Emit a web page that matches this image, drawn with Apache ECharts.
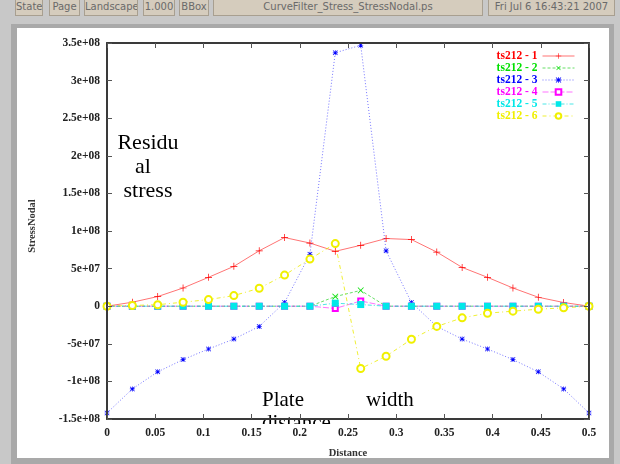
<!DOCTYPE html>
<html>
<head>
<meta charset="utf-8">
<script src="https://cdn.jsdelivr.net/npm/echarts@6/dist/echarts.min.js"></script>
<style>
  body { margin: 0; background: #c8c8c8; }
  .btn {
    position: absolute; top: 0; height: 16px;
    background: #d5ccbd; border: 1px solid #a89f90; border-top: none;
    font: 10px "DejaVu Sans", sans-serif; color: #6a6a6a;
    text-align: center; line-height: 14px; box-sizing: border-box;
    overflow: hidden; white-space: nowrap;
  }
  #frame { position: absolute; left: 11px; top: 24px; width: 603px; height: 440px; background: #a9a9a9; }
  #page { position: absolute; left: 17px; top: 28px; width: 592px; height: 430px; background: #fff; }
  #main { position: absolute; left: 0; top: 0; width: 620px; height: 464px; }
</style>
</head>
<body>
<div class="btn" style="left:15px;width:28px">State</div>
<div class="btn" style="left:49px;width:31px">Page</div>
<div class="btn" style="left:84px;width:54px">Landscape</div>
<div class="btn" style="left:143px;width:32px">1.000</div>
<div class="btn" style="left:179px;width:30px">BBox</div>
<div class="btn" style="left:213px;width:270px">CurveFilter_Stress_StressNodal.ps</div>
<div class="btn" style="left:488px;width:127px">Fri Jul  6 16:43:21 2007</div>
<div id="frame"></div>
<div id="page"></div>
<div id="main"></div>
<script>
// nodal positions along the plate
const distance = [0, 0.0263, 0.0526, 0.0789, 0.1053, 0.1316, 0.1579, 0.1842, 0.2105, 0.2368,
  0.2632, 0.2895, 0.3158, 0.3421, 0.3684, 0.3947, 0.4211, 0.4474, 0.4737, 0.5]

const ts1 = [0, 5.3e6, 1.28e7, 2.42e7, 3.84e7, 5.3e7, 7.37e7, 9.13e7, 8.4e7, 7.3e7,
  8.1e7, 9.0e7, 8.86e7, 7.2e7, 5.16e7, 3.84e7, 2.42e7, 1.19e7, 4.9e6, 0]
const ts2 = [0, 0, 0, 0, 0, 0, 0, 0, 0, 1.28e7,
  2.1e7, 0, 0, 0, 0, 0, 0, 0, 0, 0]
const ts3 = [-1.42e8, -1.10e8, -8.73e7, -7.1e7, -5.69e7, -4.37e7, -2.69e7, 4.9e6, 6.9e7, 3.37e8,
  3.47e8, 7.37e7, 4.9e6, -2.69e7, -4.37e7, -5.69e7, -7.1e7, -8.73e7, -1.10e8, -1.42e8]
const ts4 = [0, 0, 0, 0, 0, 0, 0, 0, 0, -3e6,
  7e6, 0, 0, 0, 0, 0, 0, 0, 0, 0]
const ts5 = [0, 0, 0, 0, 0, 0, 0, 0, 0, 4e6,
  2.2e6, 0, 0, 0, 0, 0, 0, 0, 0, 0]
const ts6 = [0, 1e6, 2e6, 5.3e6, 8.8e6, 1.41e7, 2.38e7, 4.14e7, 6.26e7, 8.33e7,
  -8.29e7, -6.65e7, -4.4e7, -2.69e7, -1.55e7, -9.3e6, -6.6e6, -4e6, -2.2e6, 0]

const seriesNames = ['ts212 - 1', 'ts212 - 2', 'ts212 - 3', 'ts212 - 4', 'ts212 - 5', 'ts212 - 6']
const xTickLabels = ['0', '0.05', '0.1', '0.15', '0.2', '0.25', '0.3', '0.35', '0.4', '0.45', '0.5']
const yTickLabels = ['-1.5e+08', '-1e+08', '-5e+07', '0', '5e+07', '1e+08', '1.5e+08', '2e+08', '2.5e+08', '3e+08', '3.5e+08']

const serif = '"Liberation Serif", "DejaVu Serif", serif'
const colors = ['#ff0000', '#00e000', '#0000ff', '#ff00ff', '#00e8e8', '#f0f000']
const lineColors = ['rgba(255,0,0,0.55)', 'rgba(0,200,0,0.6)', 'rgba(0,0,255,0.55)',
  'rgba(255,0,255,0.55)', 'rgba(0,220,220,0.7)', 'rgba(235,235,0,0.8)']

const plusPath = 'path://M0,4.5H10V5.5H0ZM4.5,0H5.5V10H4.5Z'
const starPath = 'path://M0,4.3H10V5.7H0ZM4.3,0H5.7V10H4.3ZM1,0L10,9L9,10L0,1ZM9,0L10,1L1,10L0,9Z'

const values = [ts1, ts2, ts3, ts4, ts5, ts6]
const marks = [
  { symbol: plusPath, symbolSize: 7, border: 0, type: 'solid' },
  { symbol: plusPath, symbolSize: 8, border: 0, rotate: 45, type: [3, 2] },
  { symbol: starPath, symbolSize: 5, border: 0, type: [1, 2] },
  { symbol: 'emptyRect', symbolSize: 5, border: 1, type: [6, 2] },
  { symbol: 'rect', symbolSize: 7, border: 0, type: [4, 2, 1, 2] },
  { symbol: 'emptyCircle', symbolSize: 7, border: 1, type: [4, 3, 1, 3] },
]

const chart = echarts.init(document.getElementById('main'))

const tickStyle = { inside: true, length: 5, lineStyle: { color: '#555', width: 1 } }
const frameLine = { show: true, onZero: false, lineStyle: { color: '#3a3a3a', width: 2 } }
const labelFont = { fontFamily: serif, fontWeight: 'bold', fontSize: 11.5, color: '#222' }

chart.setOption({
  backgroundColor: 'transparent',
  animation: false,
  grid: { left: 107, top: 43, right: 31, bottom: 41, containLabel: false },
  legend: {
    orient: 'vertical',
    right: 45,
    top: 50,
    padding: 0,
    align: 'right',
    itemWidth: 32,
    itemHeight: 7,
    itemGap: 0,
    lineStyle: { width: 1 },
    textStyle: { fontFamily: serif, fontWeight: 'bold', fontSize: 11.5, lineHeight: 12 },
    data: seriesNames.map((n, i) => ({ name: n, textStyle: { color: colors[i] } })),
  },
  xAxis: [
    {
      type: 'value', position: 'bottom', min: 0, max: 0.5, interval: 0.05, z: 10,
      name: 'Distance', nameLocation: 'middle', nameGap: 29,
      nameTextStyle: { fontFamily: serif, fontWeight: 'bold', fontSize: 10.5, color: '#333' },
      axisLine: frameLine,
      axisTick: tickStyle,
      axisLabel: { ...labelFont, margin: 8, formatter: (v) => xTickLabels[Math.round(v / 0.05)] },
      splitLine: { show: false },
    },
    {
      type: 'value', position: 'top', min: 0, max: 0.5, interval: 0.05, z: 10,
      axisLine: frameLine, axisTick: tickStyle,
      axisLabel: { show: false }, splitLine: { show: false },
    },
  ],
  yAxis: [
    {
      type: 'value', position: 'left', min: -1.5e8, max: 3.5e8, interval: 5e7, z: 10,
      axisLine: frameLine,
      axisTick: tickStyle,
      axisLabel: { ...labelFont, margin: 7, formatter: (v) => yTickLabels[Math.round((v + 1.5e8) / 5e7)] },
      splitLine: { show: false },
    },
    {
      type: 'value', position: 'right', min: -1.5e8, max: 3.5e8, interval: 5e7, z: 10,
      axisLine: frameLine, axisTick: tickStyle,
      axisLabel: { show: false }, splitLine: { show: false },
    },
  ],
  series: values.map((vals, i) => ({
    name: seriesNames[i],
    type: 'line',
    data: distance.map((d, k) => [d, vals[k]]),
    symbol: marks[i].symbol,
    symbolSize: marks[i].symbolSize,
    symbolRotate: marks[i].rotate || 0,
    showAllSymbol: true,
    itemStyle: { color: colors[i], borderColor: colors[i], borderWidth: marks[i].border },
    lineStyle: { color: lineColors[i], width: 1, type: marks[i].type },
    z: 3 + i,
  })),
  graphic: [
    {
      type: 'text', rotation: Math.PI / 2, x: 32, y: 226, z: 20,
      style: { text: 'StressNodal', fontFamily: serif, fontWeight: 'bold', fontSize: 10.5, fill: '#333', align: 'center', verticalAlign: 'middle' },
    },
    { type: 'text', x: 148, y: 143, z: 20, style: { text: 'Residu', fontFamily: serif, fontSize: 22, fill: '#000', align: 'center', verticalAlign: 'middle' } },
    { type: 'text', x: 143, y: 167, z: 20, style: { text: 'al', fontFamily: serif, fontSize: 22, fill: '#000', align: 'center', verticalAlign: 'middle' } },
    { type: 'text', x: 148, y: 191, z: 20, style: { text: 'stress', fontFamily: serif, fontSize: 22, fill: '#000', align: 'center', verticalAlign: 'middle' } },
    { type: 'text', x: 262, y: 400, z: 1, style: { text: 'Plate', fontFamily: serif, fontSize: 21, fill: '#000', align: 'left', verticalAlign: 'middle' } },
    { type: 'text', x: 366, y: 400, z: 1, style: { text: 'width', fontFamily: serif, fontSize: 21, fill: '#000', align: 'left', verticalAlign: 'middle' } },
    { type: 'text', x: 262, y: 423, z: 1, style: { text: 'distance', fontFamily: serif, fontSize: 21, fill: '#000', align: 'left', verticalAlign: 'middle' } },
    { type: 'rect', z: 2, shape: { x: 250, y: 424, width: 100, height: 7 }, style: { fill: '#fff' } },
  ],
})
</script>
</body>
</html>
